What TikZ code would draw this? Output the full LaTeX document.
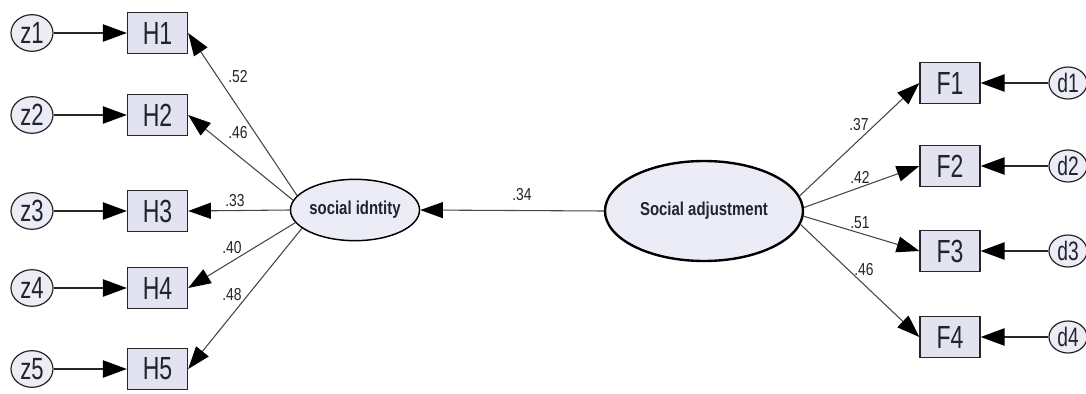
\documentclass[tikz,border=0pt]{standalone}
\usepackage{fontspec}
\setmainfont{Liberation Sans}
\newfontfamily\boxfont{Liberation Sans}[FakeStretch=0.72]
\newfontfamily\lblfont{Liberation Sans}[FakeStretch=0.8]
\newfontfamily\elfont{Liberation Sans}[FakeStretch=0.8]
\usetikzlibrary{arrows.meta,shapes.geometric}
\definecolor{boxfill}{RGB}{226,226,240}
\definecolor{elfill}{RGB}{236,236,247}
\definecolor{linegray}{RGB}{70,70,70}
\definecolor{txt}{RGB}{35,35,45}
\tikzset{
  obs/.style={draw=black!85, line width=1pt, fill=boxfill, minimum width=45pt, minimum height=30.5pt, inner sep=0pt, font=\boxfont\fontsize{24}{24}\selectfont, text=txt},
  errl/.style={draw=black!85, line width=0.9pt, fill=elfill, ellipse, minimum width=31.5pt, minimum height=27.5pt, inner sep=0pt, font=\boxfont\fontsize{23}{23}\selectfont, text=txt},
  errr/.style={draw=black!85, line width=0.9pt, fill=elfill, ellipse, minimum width=28.5pt, minimum height=24pt, inner sep=0pt, font=\boxfont\fontsize{20}{20}\selectfont, text=txt},
  latent/.style={draw=black, ellipse, fill=elfill, inner sep=0pt, font=\elfont\bfseries\fontsize{14}{14}\selectfont, text=txt},
  coef/.style={font=\lblfont\fontsize{13}{13}\selectfont, text=txt, inner sep=0pt},
  darr/.style={line width=1.1pt, draw=black!85, -{Triangle[length=18pt,width=13pt,color=black]}},
  edge/.style={line width=0.8pt, draw=linegray, -{Triangle[length=17pt,width=12pt,color=black]}}
}
\begin{document}
\begin{tikzpicture}[x=0.75pt,y=-0.75pt]
\useasboundingbox (0,0) rectangle (1086,393);
% left observed
\foreach \i/\y in {1/33,2/115,3/211,4/288,5/369}{
  \node[errl] (z\i) at (32,\y) {z\i};
  \node[obs] (H\i) at (157.5,\y) {H\i};
  \draw[darr] (z\i) -- (H\i);
}
% right observed
\foreach \i/\y in {1/83,2/166,3/251,4/337}{
  \node[errr] (d\i) at (1068,\y) {d\i};
  \node[obs] (F\i) at (950,\y) {F\i};
  \draw[darr] (d\i) -- (F\i);
}
% latent
\node[latent, line width=1.1pt, minimum width=90pt, minimum height=46pt] (SI) at (355,210) {social idntity};
\node[latent, line width=1.8pt, minimum width=148.5pt, minimum height=75pt] (SA) at (704,211) {Social adjustment};
\draw[edge] (SA.west) -- (SI.east);
\node[coef] (c34) at (522,195) {.34};
% left paths
\draw[edge] (SI.166) -- (H1.east);
\draw[edge] (SI.171) -- (H2.east);
\draw[edge] (SI.180) -- (H3.east);
\draw[edge] (SI.192) -- (H4.east);
\draw[edge] (SI.199) -- (H5.east);
\node[coef] (c52) at (238,77) {.52};
\node[coef] (c46a) at (238,133) {.46};
\node[coef] (c33) at (235,201) {.33};
\node[coef] (c40) at (232,248) {.40};
\node[coef] (c48) at (232,295) {.48};
% right paths
\draw[edge] (SA.9) -- (F1.west);
\draw[edge] (SA.2) -- (F2.west);
\draw[edge] (SA.-3) -- (F3.west);
\draw[edge] (SA.-8) -- (F4.west);
\node[coef] (c37) at (859,125) {.37};
\node[coef] (c42) at (860,177) {.42};
\node[coef] (c51) at (860,223) {.51};
\node[coef] (c46b) at (864,270) {.46};
\end{tikzpicture}
\end{document}
